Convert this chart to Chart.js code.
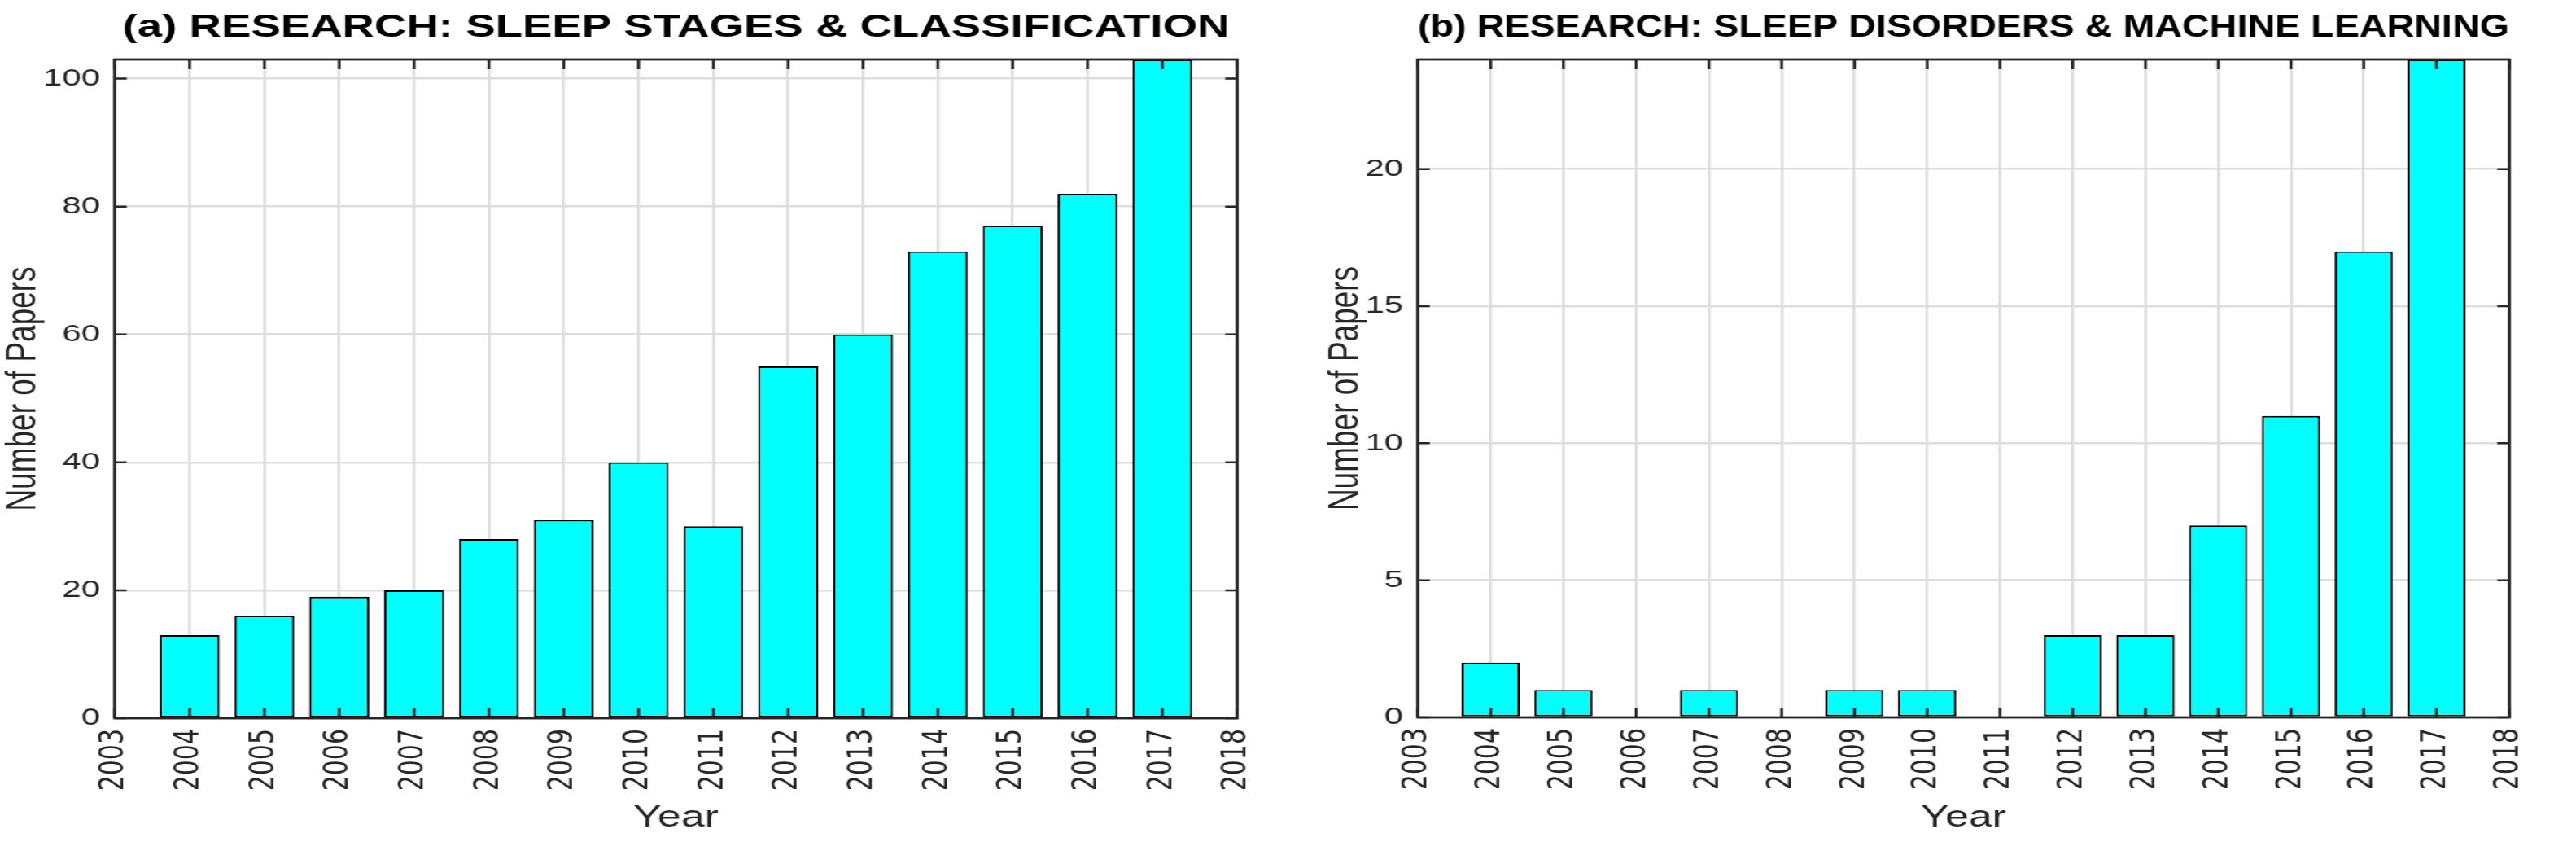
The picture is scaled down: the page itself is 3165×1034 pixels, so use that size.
<!DOCTYPE html>
<html>
<head>
<meta charset="utf-8">
<title>Sleep research papers per year</title>
<script src="https://cdn.jsdelivr.net/npm/chart.js@4.4.0/dist/chart.umd.min.js"></script>
<style>
	html, body { margin: 0; padding: 0; background: #fff; }
	body { width: 3165px; height: 1034px; position: relative; overflow: hidden; }
	/* the reference figure is stretched sideways, so each panel is too */
	.panel { position: absolute; top: 0; transform: scaleX(1.4); transform-origin: 0 0; }
	#panelA { left: 0; }
	#panelB { left: 1625px; }
</style>
</head>
<body>
<div class="panel" id="panelA"><canvas id="stagesChart" width="1171" height="1034"></canvas></div>
<div class="panel" id="panelB"><canvas id="disordersChart" width="1100" height="1034"></canvas></div>
<script>
const years = [ 2004, 2005, 2006, 2007, 2008, 2009, 2010, 2011, 2012, 2013, 2014, 2015, 2016, 2017 ]
const stagesPapers = [ 13, 16, 19, 20, 28, 31, 40, 30, 55, 60, 73, 77, 82, 103 ]
const disordersPapers = [ 2, 1, 0, 1, 0, 1, 1, 0, 3, 3, 7, 11, 17, 24 ]

const yearTicks = [ 2003, 2004, 2005, 2006, 2007, 2008, 2009, 2010, 2011, 2012, 2013, 2014, 2015, 2016, 2017, 2018 ]
const stagesTicks = [ 0, 20, 40, 60, 80, 100 ]
const disordersTicks = [ 0, 5, 10, 15, 20 ]
const stagesMax = 103
const disordersMax = 24

const axisColor = '#262626'
const gridColor = '#dedede'
const barColor = '#00ffff'

// matlab style box with inward tick marks on all four sides
const boxTicks = {
	id: 'boxTicks',
	afterDatasetsDraw( chart ) {
		const { ctx, chartArea: a, scales: { x, y } } = chart
		ctx.save()
		ctx.strokeStyle = axisColor
		ctx.lineWidth = 2.5
		ctx.beginPath()
		x.ticks.forEach( t => {
			const px = x.getPixelForValue( t.value )
			ctx.moveTo( px, a.bottom )
			ctx.lineTo( px, a.bottom - 12 )
			ctx.moveTo( px, a.top )
			ctx.lineTo( px, a.top + 12 )
		} )
		y.ticks.forEach( t => {
			const py = y.getPixelForValue( t.value )
			ctx.moveTo( a.left, py )
			ctx.lineTo( a.left + 10.5, py )
			ctx.moveTo( a.right, py )
			ctx.lineTo( a.right - 10.5, py )
		} )
		ctx.stroke()
		ctx.lineWidth = 2.8
		ctx.strokeRect( a.left, a.top, a.right - a.left, a.bottom - a.top )
		ctx.restore()
	}
}

const makeChart = ( id, title, values, yMax, yTicks, opts ) => {
	return new Chart( document.getElementById( id ), {
		type: 'bar',
		data: {
			datasets: [ {
				data: years.map( ( yr, i ) => ( { x: yr, y: values[i] } ) ),
				backgroundColor: barColor,
				borderColor: '#000',
				borderWidth: ctx => ( ctx.raw && ctx.raw.y === 0 ) ? 0 : 2,
				borderSkipped: false,
				barPercentage: 0.8,
				categoryPercentage: 1
			} ]
		},
		options: {
			responsive: false,
			animation: false,
			devicePixelRatio: 1,
			layout: { padding: { left: 0, right: opts.rightPad, top: 0, bottom: 0 } },
			plugins: {
				legend: { display: false },
				tooltip: { enabled: false },
				title: {
					display: true,
					fullSize: false,
					text: title,
					color: '#000',
					font: { family: '"Liberation Sans", Arial, sans-serif', size: 39, weight: 'bold', lineHeight: 1.2 },
					padding: { top: 10.6, bottom: 15.6 }
				}
			},
			scales: {
				x: {
					type: 'linear',
					min: yearTicks[0],
					max: yearTicks[yearTicks.length - 1],
					offset: false,
					afterBuildTicks: scale => { scale.ticks = yearTicks.map( v => ( { value: v } ) ) },
					afterFit: scale => { scale.height = opts.xHeight },
					grid: { color: gridColor, lineWidth: 2.5, drawTicks: false, offset: false },
					border: { display: false },
					ticks: {
						autoSkip: false,
						minRotation: 90,
						maxRotation: 90,
						padding: 13,
						color: axisColor,
						font: { family: '"DejaVu Sans", sans-serif', size: 30 },
						callback: v => String( v )
					},
					title: {
						display: true,
						text: 'Year',
						color: axisColor,
						font: { family: '"Liberation Sans", Arial, sans-serif', size: 37, lineHeight: 1.2 },
						padding: { top: 0, bottom: 6.6 }
					}
				},
				y: {
					min: 0,
					max: yMax,
					afterBuildTicks: scale => { scale.ticks = yTicks.map( v => ( { value: v } ) ) },
					afterFit: scale => { scale.width = opts.yWidth },
					grid: { color: gridColor, lineWidth: 2.5, drawTicks: false },
					border: { display: false },
					ticks: {
						padding: 12.8,
						color: axisColor,
						font: { family: '"Liberation Sans", Arial, sans-serif', size: 30 }
					},
					title: {
						display: true,
						text: 'Number of Papers',
						color: axisColor,
						font: { family: '"Liberation Sans", Arial, sans-serif', size: 37, lineHeight: 1.2 },
						padding: { top: -1.5, bottom: 0 }
					}
				}
			}
		},
		plugins: [ boxTicks ]
	} )
}

makeChart( 'stagesChart', '(a) RESEARCH: SLEEP STAGES & CLASSIFICATION', stagesPapers, stagesMax, stagesTicks,
	{ yWidth: 100.7, rightPad: 85.3, xHeight: 152 } )
makeChart( 'disordersChart', '(b) RESEARCH: SLEEP DISORDERS & MACHINE LEARNING', disordersPapers, disordersMax, disordersTicks,
	{ yWidth: 83.6, rightPad: 58.6, xHeight: 153 } )
</script>
</body>
</html>
